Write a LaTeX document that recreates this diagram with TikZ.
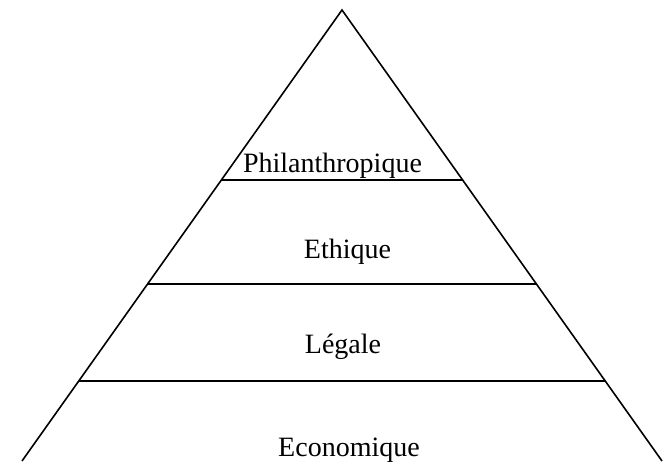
\documentclass[tikz,border=0pt]{standalone}
\usepackage{fontspec}
\setmainfont{Liberation Serif}
\begin{document}
\begin{tikzpicture}[x=1pt,y=-1pt,
  edge/.style={line width=1.6pt,black},
  tier/.style={anchor=base,inner sep=0pt,font=\fontsize{28}{32}\selectfont}]
\useasboundingbox (0,0) rectangle (665,470);
% pyramid outline
\coordinate (apex) at (342,10);
\coordinate (bl) at (22,461);
\coordinate (br) at (662,461);
\draw[edge] (bl) -- (apex) -- (br);
% tier separators
\coordinate (a1) at (221,180);
\coordinate (b1) at (462,180);
\coordinate (a2) at (147.5,284);
\coordinate (b2) at (536.5,284);
\coordinate (a3) at (78.5,381);
\coordinate (b3) at (605.5,381);
\draw[edge] (a1) -- (b1);
\draw[edge] (a2) -- (b2);
\draw[edge] (a3) -- (b3);
% tier labels
\node[tier] (philo) at (332.5,173) {Philanthropique};
\node[tier] (ethic) at (347.5,259) {Ethique};
\node[tier] (legal) at (343,354) {Légale};
\node[tier] (econ) at (349,457) {Economique};
\end{tikzpicture}
\end{document}
